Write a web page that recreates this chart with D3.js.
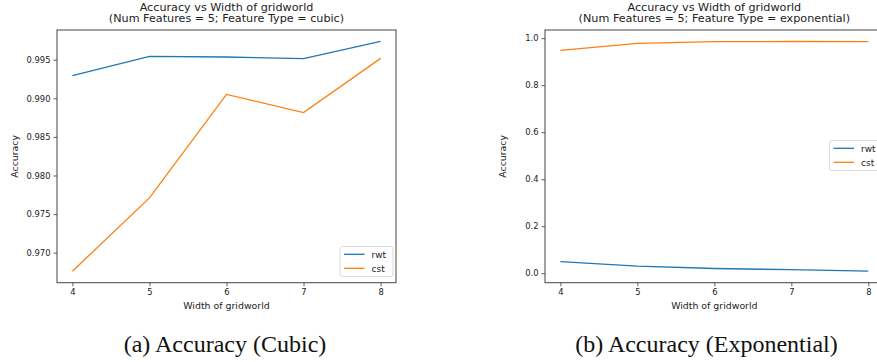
<!DOCTYPE html>
<html>
<head>
<meta charset="utf-8">
<script src="https://cdn.jsdelivr.net/npm/d3@7"></script>
<style>
  body { margin: 0; background: white; }
  svg { display: block; }
  .tick text { font-family: "DejaVu Sans", sans-serif; fill: #222; }
</style>
</head>
<body>
<div id="chartdiv"></div>
<script>
// gridworld widths (x axis)
const widths = [4, 5, 6, 7, 8];

// cubic panel
const cubicRwt = [0.99293, 0.99543, 0.99535, 0.99513, 0.99736];
const cubicCst = [0.96760, 0.97710, 0.99050, 0.98815, 0.99517];
const cubicTicks = [0.970, 0.975, 0.980, 0.985, 0.990, 0.995];

// exponential panel
const expRwt = [0.049, 0.030, 0.020, 0.015, 0.0085];
const expCst = [0.948, 0.978, 0.985, 0.986, 0.985];
const expTicks = [0.0, 0.2, 0.4, 0.6, 0.8, 1.0];

const seriesNames = ["rwt", "cst"];
const seriesColors = ["#1f77b4", "#ff7f0e"];

const captions = ["(a) Accuracy (Cubic)", "(b) Accuracy (Exponential)"];
const titleLine1 = "Accuracy vs Width of gridworld";
const titleLines2 = ["(Num Features = 5; Feature Type = cubic)", "(Num Features = 5; Feature Type = exponential)"];

let svg = d3.select("#chartdiv")
            .append("svg")
            .attr("width", 877)
            .attr("height", 362);

function drawPanel(box, rwt, cst, yTicks, yFormat, title2, caption, legendPos){
  let g = svg.append("g");

  // matplotlib style 5% margins
  let all = rwt.concat(cst);
  let lo = d3.min(all), hi = d3.max(all);
  let pad = (hi - lo) * 0.05;

  let xscale = d3.scaleLinear()
                 .domain([3.8, 8.2])
                 .range([box.left, box.right]);
  let yscale = d3.scaleLinear()
                 .domain([lo - pad, hi + pad])
                 .range([box.bottom, box.top]);

  // lines
  let line = d3.line()
               .x((d, i) => xscale(widths[i]))
               .y(d => yscale(d));

  [rwt, cst].forEach(function(s, i){
    g.append("path")
     .datum(s)
     .attr("d", line)
     .attr("fill", "none")
     .attr("stroke", seriesColors[i])
     .attr("stroke-width", 1.3);
  });

  // axes
  let x_axis = g.append("g")
                .attr("transform", `translate(0, ${box.bottom})`)
                .call(d3.axisBottom(xscale).tickValues(widths).tickFormat(d3.format("d")).tickSize(3.5).tickPadding(3));
  x_axis.selectAll("text").style("font-size", "8.4px");

  let y_axis = g.append("g")
                .attr("transform", `translate(${box.left}, 0)`)
                .call(d3.axisLeft(yscale).tickValues(yTicks).tickFormat(yFormat).tickSize(3.5).tickPadding(3));
  y_axis.selectAll("text").style("font-size", "8.4px");

  g.selectAll(".domain").remove();
  g.selectAll(".tick line").attr("stroke", "#333").attr("stroke-width", 0.8);

  // frame
  g.append("rect")
   .attr("x", box.left)
   .attr("y", box.top)
   .attr("width", box.right - box.left)
   .attr("height", box.bottom - box.top)
   .attr("fill", "none")
   .attr("stroke", "#444")
   .attr("stroke-width", 1);

  // titles
  let cx = (box.left + box.right) / 2;
  g.append("text")
   .attr("x", cx)
   .attr("y", 10.5)
   .attr("text-anchor", "middle")
   .style("font-family", "DejaVu Sans")
   .style("font-size", "11.2px")
   .attr("fill", "#222")
   .text(titleLine1);
  g.append("text")
   .attr("x", cx)
   .attr("y", 22)
   .attr("text-anchor", "middle")
   .style("font-family", "DejaVu Sans")
   .style("font-size", "11.2px")
   .attr("fill", "#222")
   .text(title2);

  // axis labels
  g.append("text")
   .attr("x", cx)
   .attr("y", 308.5)
   .attr("text-anchor", "middle")
   .style("font-family", "DejaVu Sans")
   .style("font-size", "9.4px")
   .attr("fill", "#222")
   .text("Width of gridworld");
  g.append("text")
   .attr("transform", `translate(${box.left - 39}, ${(box.top + box.bottom) / 2})rotate(-90)`)
   .attr("text-anchor", "middle")
   .style("font-family", "DejaVu Sans")
   .style("font-size", "9.4px")
   .attr("fill", "#222")
   .text("Accuracy");

  // legend
  let leg = g.append("g")
             .attr("transform", `translate(${legendPos.x}, ${legendPos.y})`);
  leg.append("rect")
     .attr("width", 53)
     .attr("height", 30)
     .attr("rx", 2.5)
     .attr("fill", "white")
     .attr("fill-opacity", 0.8)
     .attr("stroke", "#d0d0d0")
     .attr("stroke-width", 0.8);
  seriesNames.forEach(function(name, i){
    leg.append("line")
       .attr("x1", 4).attr("x2", 24.5)
       .attr("y1", 7.8 + i * 14).attr("y2", 7.8 + i * 14)
       .attr("stroke", seriesColors[i])
       .attr("stroke-width", 1.3);
    leg.append("text")
       .attr("x", 31.5)
       .attr("y", 11 + i * 14)
       .style("font-family", "DejaVu Sans")
       .style("font-size", "9px")
       .attr("fill", "#222")
       .text(name);
  });

  // caption
  svg.append("text")
     .attr("x", caption.x)
     .attr("y", 351.5)
     .attr("text-anchor", "middle")
     .style("font-family", "Liberation Serif")
     .style("font-size", "24px")
     .attr("fill", "#111")
     .text(caption.text);
}

drawPanel({left: 57, right: 396, top: 30, bottom: 282.7}, cubicRwt, cubicCst, cubicTicks, d3.format(".3f"),
          titleLines2[0], {x: 225, text: captions[0]}, {x: 340, y: 246.5});

drawPanel({left: 545, right: 883.7, top: 30, bottom: 282.7}, expRwt, expCst, expTicks, d3.format(".1f"),
          titleLines2[1], {x: 706.5, text: captions[1]}, {x: 829.5, y: 140.5});
</script>
</body>
</html>
